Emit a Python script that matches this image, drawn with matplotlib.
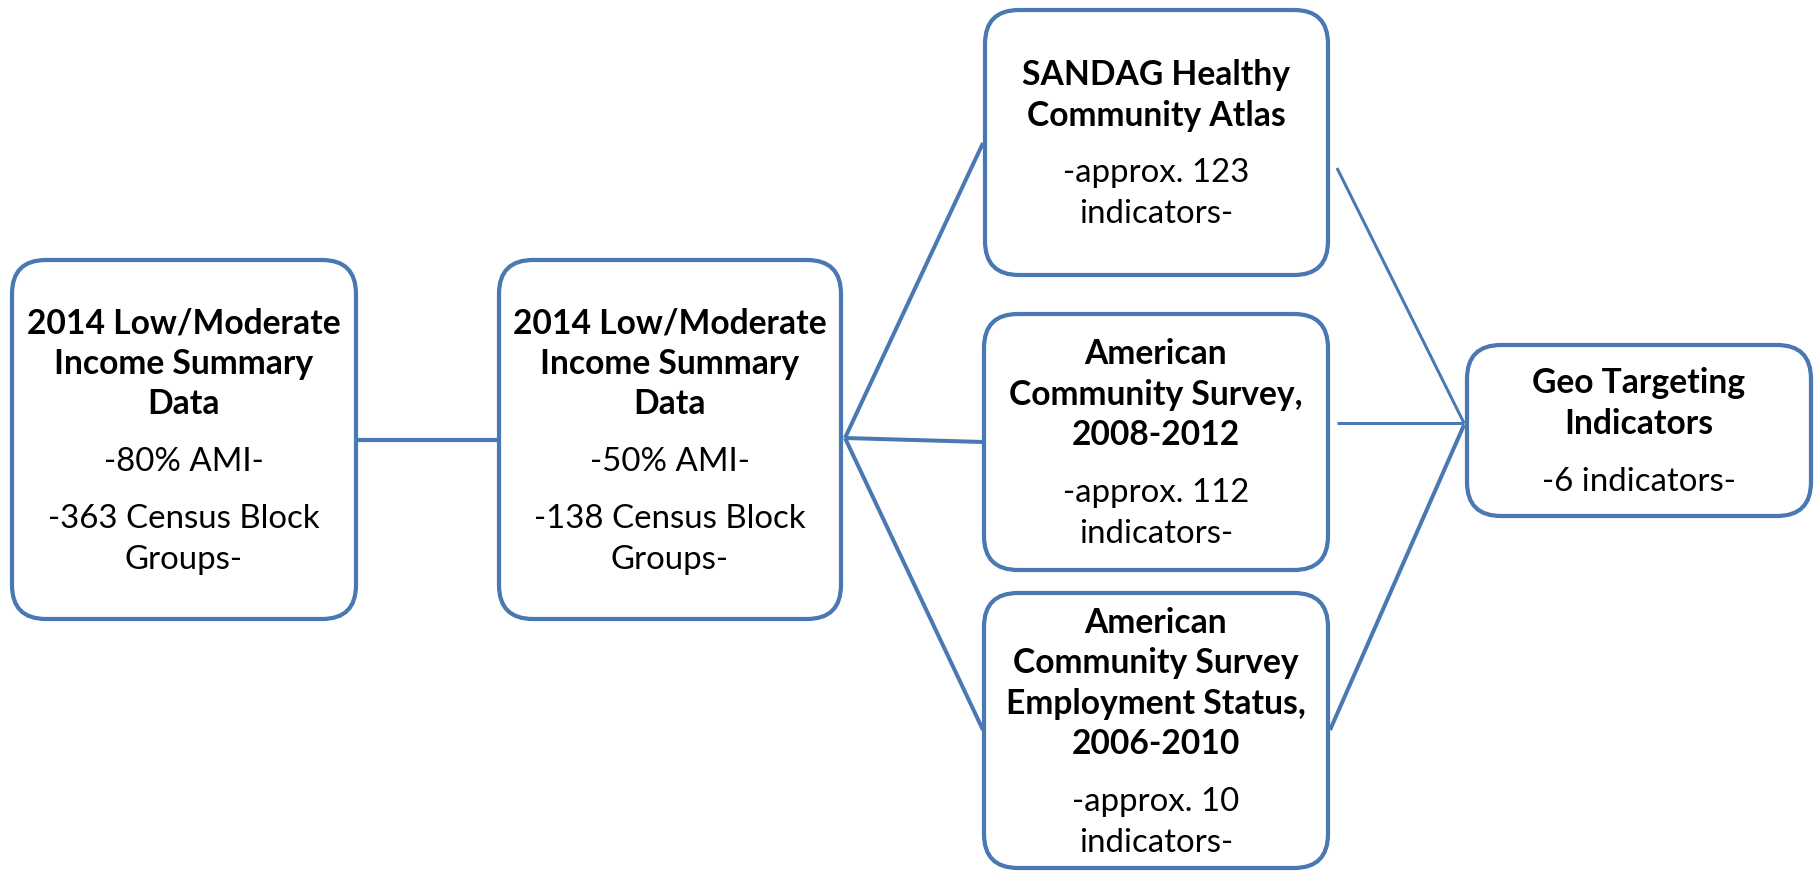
import matplotlib
matplotlib.use("Agg")
import matplotlib.pyplot as plt
from matplotlib.patches import FancyBboxPatch

plt.rcParams["font.family"] = ["Lato", "DejaVu Sans"]

BLUE = "#4a78b2"
W, H = 1817, 872

# box texts
titles = [
    "2014 Low/Moderate\nIncome Summary\nData",
    "2014 Low/Moderate\nIncome Summary\nData",
    "SANDAG Healthy\nCommunity Atlas",
    "American\nCommunity Survey,\n2008-2012",
    "American\nCommunity Survey\nEmployment Status,\n2006-2010",
    "Geo Targeting\nIndicators",
]
details = [
    ["-80% AMI-", "-363 Census Block\nGroups-"],
    ["-50% AMI-", "-138 Census Block\nGroups-"],
    ["-approx. 123\nindicators-"],
    ["-approx. 112\nindicators-"],
    ["-approx. 10\nindicators-"],
    ["-6 indicators-"],
]

# box outlines in pixels: left, top, right, bottom
boxes = [
    (12, 260, 356, 619),
    (499, 260, 841, 619),
    (985, 10, 1328, 275),
    (984, 314, 1328, 570),
    (984, 593, 1328, 868),
    (1467, 345, 1811, 516),
]

# connectors: (x0, y0, x1, y1, linewidth in px)
links = [
    (358, 440, 497, 440, 4.2),
    (845, 438, 983, 143, 4.0),
    (845, 438, 983, 442, 4.0),
    (845, 438, 983, 730, 4.0),
    (1337, 168, 1464, 423, 3.0),
    (1337, 423, 1464, 423, 3.0),
    (1330, 730, 1464, 425, 4.0),
]

LINE_H = 40.5
PARA_GAP = 57
CAP_HALF = 11.5
FS_BOLD = 24.2
FS_NORM = 23.8

fig = plt.figure(figsize=(W / 100, H / 100), dpi=100, facecolor="white")
ax = fig.add_axes([0, 0, 1, 1])
ax.set_xlim(0, W)
ax.set_ylim(H, 0)
ax.axis("off")

px = 72 / 100  # points per pixel

for x0, y0, x1, y1, lw in links:
    ax.plot([x0, x1], [y0, y1], color=BLUE, linewidth=lw * px, solid_capstyle="butt", zorder=1)

for (l, t, r, b), title, det in zip(boxes, titles, details):
    patch = FancyBboxPatch((l, t), r - l, b - t, boxstyle="round,pad=0,rounding_size=34",
                           facecolor="white", edgecolor=BLUE, linewidth=4.2 * px, zorder=2)
    ax.add_patch(patch)

    # stack lines: bold title lines, then detail paragraphs
    rows = [(s, "bold") for s in title.split("\n")]
    ys = [0.0]
    for i in range(1, len(rows)):
        ys.append(ys[-1] + LINE_H)
    for para in det:
        first = True
        for s in para.split("\n"):
            ys.append(ys[-1] + (PARA_GAP if first else LINE_H))
            rows.append((s, "normal"))
            first = False
    mid = (t + b) / 2
    off = mid - (ys[0] + ys[-1]) / 2
    cx = (l + r) / 2
    for (s, wt), y in zip(rows, ys):
        ax.text(cx, y + off + CAP_HALF, s, ha="center", va="baseline",
                fontsize=FS_BOLD if wt == "bold" else FS_NORM, fontweight=wt,
                color="black", zorder=3)

fig.savefig("out.png", dpi=100, facecolor="white")
